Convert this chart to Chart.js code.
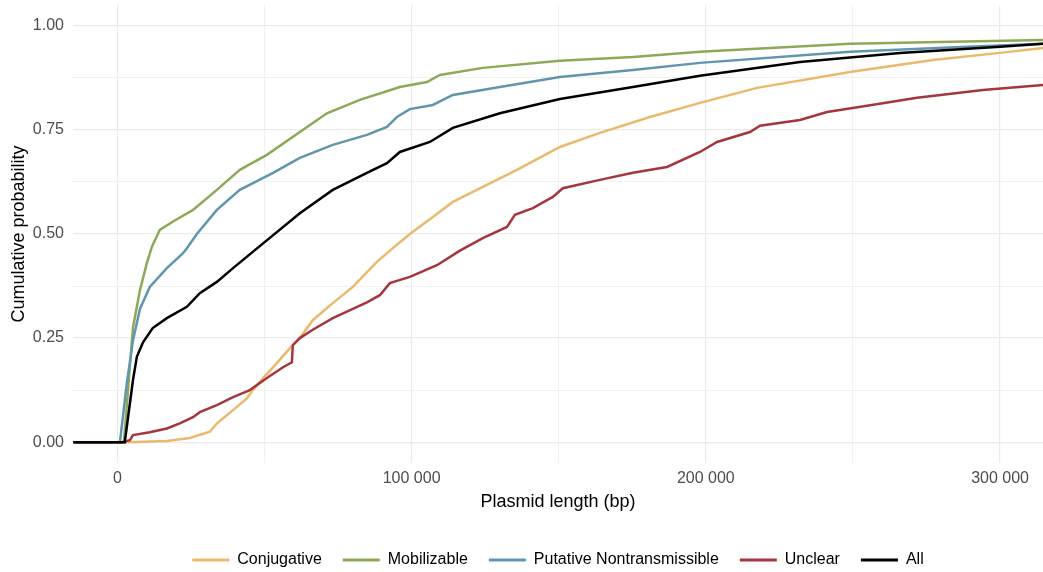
<!DOCTYPE html>
<html><head><meta charset="utf-8">
<script src="https://cdn.jsdelivr.net/npm/chart.js@4.4.1/dist/chart.umd.min.js"></script>
<style>html,body{margin:0;padding:0;background:#fff;}#wrap{width:1043px;height:572px;}</style>
</head><body><div id="wrap"><canvas id="c" width="1043" height="572"></canvas></div>
<script>
const seriesNames = ["Conjugative", "Mobilizable", "Putative Nontransmissible", "Unclear", "All"];
const seriesColors = ["#EBB96C", "#8DA957", "#6096AD", "#A5363E", "#000000"];

const conjX = [-15000, 3200, 16800, 24600, 31400, 33800, 39300, 44000, 46000, 49500, 54200, 58600, 62000, 66400, 73200, 80000, 88200, 93600, 99400, 107200, 114000, 124200, 135800, 150400, 164000, 181000, 198000, 217400, 249000, 277200, 300000, 315000];
const conjY = [0, 0, 0.003, 0.01, 0.025, 0.045, 0.077, 0.105, 0.125, 0.154, 0.19, 0.226, 0.25, 0.293, 0.334, 0.373, 0.433, 0.466, 0.5, 0.541, 0.577, 0.613, 0.654, 0.709, 0.743, 0.781, 0.815, 0.851, 0.889, 0.918, 0.935, 0.947];

const mobX = [-15000, 2200, 5300, 7650, 10000, 11700, 14400, 18900, 25700, 33800, 41600, 50800, 62000, 71200, 82400, 96000, 105200, 109600, 124200, 150400, 175200, 198000, 249000, 315000];
const mobY = [0, 0, 0.276, 0.365, 0.43, 0.469, 0.51, 0.53, 0.558, 0.606, 0.654, 0.69, 0.745, 0.79, 0.822, 0.853, 0.865, 0.882, 0.899, 0.916, 0.925, 0.9375, 0.957, 0.966];

const putX = [-15000, 850, 3200, 5300, 7650, 11000, 16800, 22300, 23600, 27000, 33800, 41600, 52900, 62000, 73200, 84800, 91600, 95000, 99400, 107200, 114000, 130000, 150400, 175200, 198000, 249000, 288800, 315000];
const putY = [0, 0, 0.142, 0.245, 0.32, 0.373, 0.418, 0.454, 0.466, 0.5, 0.558, 0.606, 0.647, 0.683, 0.714, 0.738, 0.757, 0.781, 0.8, 0.81, 0.834, 0.853, 0.877, 0.894, 0.911, 0.9375, 0.95, 0.957];

const uncX = [-15000, 1500, 4250, 5300, 11000, 16800, 21200, 25700, 28000, 33800, 39300, 45000, 50800, 56300, 59300, 59600, 62000, 66400, 73200, 84800, 89200, 92600, 99400, 108600, 116400, 124200, 132400, 135100, 141200, 148000, 151400, 164000, 175200, 186800, 198000, 203800, 215000, 218400, 232000, 241200, 254800, 271800, 294200, 315000];
const uncY = [0, 0, 0.005, 0.017, 0.024, 0.033, 0.045, 0.06, 0.072, 0.089, 0.108, 0.125, 0.154, 0.18, 0.192, 0.233, 0.25, 0.27, 0.298, 0.336, 0.353, 0.382, 0.397, 0.425, 0.46, 0.49, 0.517, 0.546, 0.562, 0.589, 0.61, 0.63, 0.647, 0.661, 0.697, 0.721, 0.745, 0.76, 0.774, 0.793, 0.808, 0.827, 0.846, 0.858];

const allX = [-15000, 2500, 5300, 6600, 8700, 12000, 16800, 23600, 28000, 33800, 39300, 46000, 62000, 73200, 84800, 91600, 96000, 106200, 114000, 130000, 150400, 175200, 198000, 232000, 266000, 300000, 315000];
const allY = [0, 0, 0.15, 0.205, 0.24, 0.274, 0.298, 0.325, 0.358, 0.385, 0.418, 0.457, 0.55, 0.606, 0.647, 0.67, 0.697, 0.721, 0.755, 0.79, 0.824, 0.853, 0.88, 0.913, 0.935, 0.95, 0.957];

const xTicks = [0, 50000, 100000, 150000, 200000, 250000, 300000];
const xLabels = [0, 100000, 200000, 300000];
const yTicks = [0, 0.125, 0.25, 0.375, 0.5, 0.625, 0.75, 0.875, 1];
const yLabels = [0, 0.25, 0.5, 0.75, 1];

const xs = [conjX, mobX, putX, uncX, allX];
const ys = [conjY, mobY, putY, uncY, allY];

const FONT = "'Liberation Sans', Arial, sans-serif";

const datasets = seriesNames.map((n, i) => ({
  label: n,
  data: xs[i].map((x, j) => ({x: x, y: ys[i][j]})),
  borderColor: seriesColors[i],
  backgroundColor: seriesColors[i],
  borderWidth: 2.5,
  pointRadius: 0,
  tension: 0,
  fill: false,
  order: 5 - i
}));

function fmt(v) {
  return String(Math.round(v)).replace(/\B(?=(\d{3})+(?!\d))/g, " ");
}
const isLab = (arr, v) => arr.some(l => Math.abs(l - v) < 1e-9);

new Chart(document.getElementById('c'), {
  type: 'line',
  data: { datasets },
  options: {
    responsive: false,
    animation: false,
    layout: { padding: { top: 5, right: 0, bottom: -6, left: 0 } },
    plugins: {
      legend: {
        position: 'bottom',
        fullSize: false,
        labels: {
          font: { family: FONT, size: 16 },
          color: '#1a1a1a',
          boxWidth: 37,
          boxHeight: 3,
          padding: 21,
          generateLabels(chart) {
            return chart.data.datasets.map((d, i) => ({
              text: d.label, fillStyle: d.borderColor, strokeStyle: d.borderColor,
              lineWidth: 0, datasetIndex: i, hidden: false
            }));
          }
        }
      },
      tooltip: { enabled: false }
    },
    scales: {
      x: {
        type: 'linear',
        min: -15100, max: 314600,
        afterBuildTicks(s) { s.ticks = xTicks.map(v => ({value: v})); },
        afterFit(s) { s.height = 68; s.paddingLeft = 0; s.paddingRight = 0; },
        border: { display: false },
        grid: {
          drawTicks: false,
          color: '#EBEBEB',
          lineWidth: (ctx) => (ctx.tick && isLab(xLabels, ctx.tick.value)) ? 1.2 : 0.7
        },
        ticks: {
          autoSkip: false, maxRotation: 0, padding: 6,
          color: '#4D4D4D', font: { family: FONT, size: 16 },
          callback: (v) => isLab(xLabels, v) ? fmt(v) : ''
        },
        title: { display: true, text: 'Plasmid length (bp)', color: '#000', font: { family: FONT, size: 18 }, padding: { top: 0, bottom: 18 } }
      },
      y: {
        type: 'linear',
        min: -0.05, max: 1.05,
        afterBuildTicks(s) { s.ticks = yTicks.map(v => ({value: v})); },
        afterFit(s) { s.width = 73; s.paddingTop = 0; s.paddingBottom = 0; },
        border: { display: false },
        grid: {
          drawTicks: false,
          color: '#EBEBEB',
          lineWidth: (ctx) => (ctx.tick && isLab(yLabels, ctx.tick.value)) ? 1.2 : 0.7
        },
        ticks: {
          autoSkip: false, padding: 9,
          color: '#4D4D4D', font: { family: FONT, size: 16 },
          callback: (v) => isLab(yLabels, v) ? v.toFixed(2) : ''
        },
        title: { display: true, text: 'Cumulative probability', color: '#000', font: { family: FONT, size: 18 }, padding: { top: 8, bottom: 0 } }
      }
    }
  }
});
</script>
</body></html>
